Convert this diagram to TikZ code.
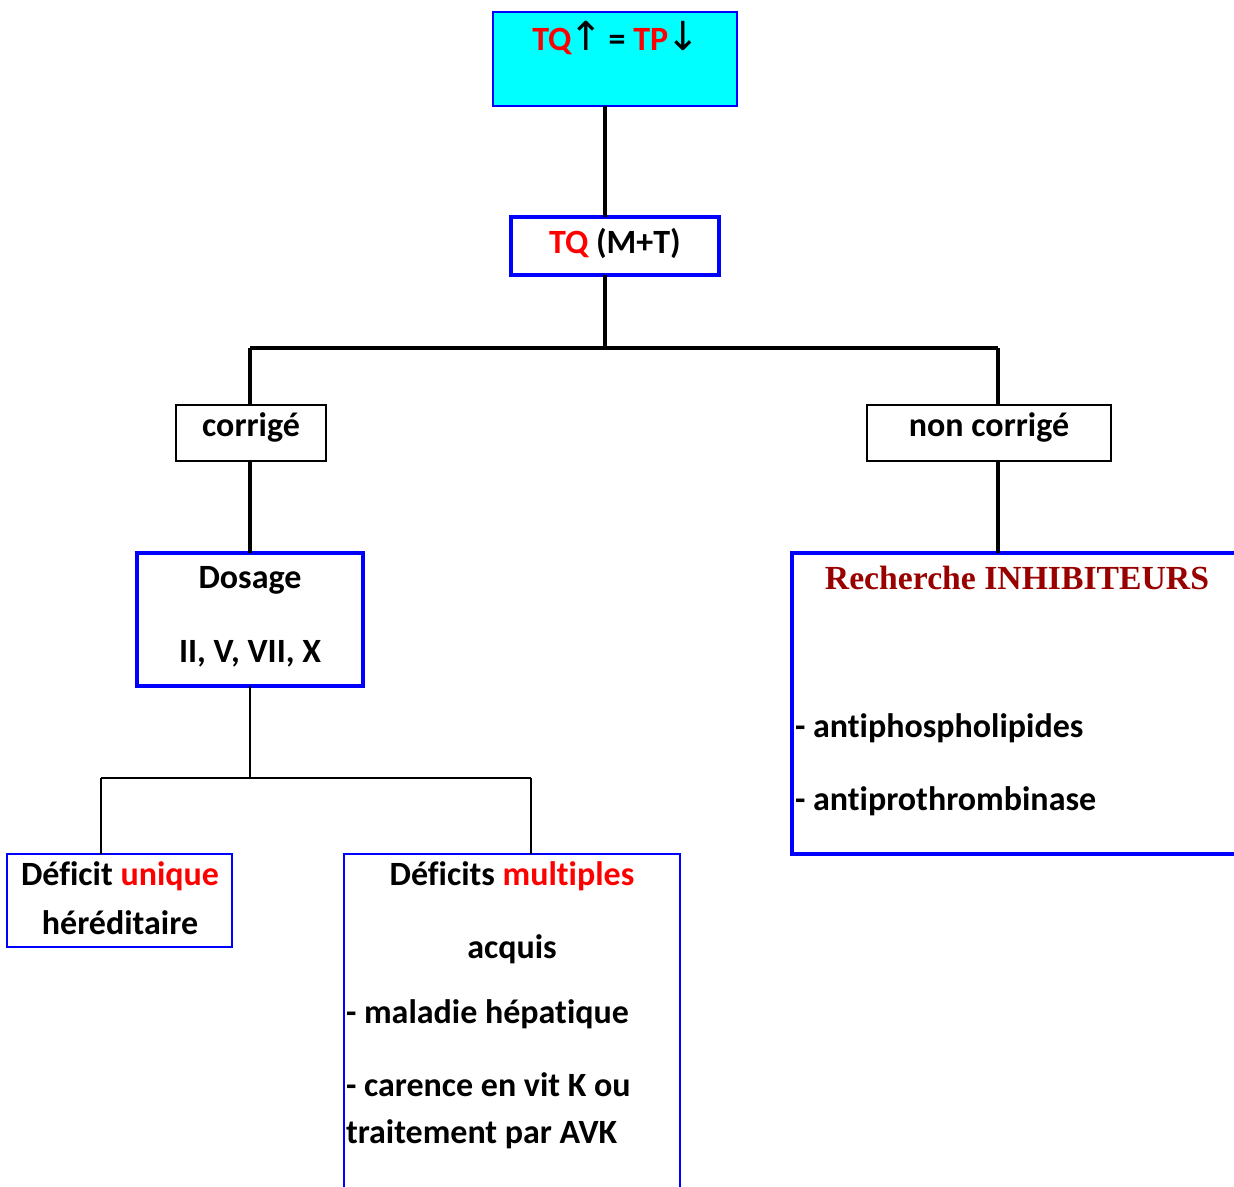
\documentclass[tikz,border=0pt]{standalone}
\usepackage{fontspec}
\setmainfont{Carlito}[Ligatures=NoCommon]
\newfontfamily\arrowfont{DejaVu Sans}
\newfontfamily\titlefont{Liberation Serif}
\definecolor{boxblue}{RGB}{0,0,255}
\definecolor{boxcyan}{RGB}{0,255,255}
\definecolor{hlred}{RGB}{255,0,0}
\definecolor{darkred}{RGB}{153,0,0}
\newcommand{\arrowsym}[1]{{\fontsize{40}{40}\arrowfont\mdseries\kern-2pt#1\kern-2pt}}
\begin{document}
\begin{tikzpicture}[x=1pt,y=-1pt,
  every node/.style={inner sep=0pt,outer sep=0pt},
  txt/.style={anchor=base,font=\fontsize{34}{40}\selectfont\bfseries},
  ltxt/.style={anchor=base west,font=\fontsize{34}{40}\selectfont\bfseries},
  blueframe/.style={draw=boxblue,line width=4pt,rectangle},
  thinblue/.style={draw=boxblue,line width=2.2pt,rectangle},
  blackframe/.style={draw=black,line width=2pt,rectangle},
  thickline/.style={line width=4pt},
  thinline/.style={line width=2.2pt}]
\useasboundingbox (0,0) rectangle (1234,1186);
\clip (0,0) rectangle (1234,1186);

% boxes
\node[thinblue,fill=boxcyan,minimum width=244pt,minimum height=94pt] (top) at (615,59) {};
\node[blueframe,minimum width=208pt,minimum height=58pt] (tq) at (615,246) {};
\node[blackframe,minimum width=150pt,minimum height=56pt] (corr) at (251,433) {};
\node[blackframe,minimum width=244pt,minimum height=56pt] (ncorr) at (989,433) {};
\node[blueframe,minimum width=226pt,minimum height=133pt] (dos) at (250,619.5) {};
\node[blueframe,minimum width=452pt,minimum height=301pt] (rech) at (1018,703.5) {};
\node[thinblue,minimum width=225pt,minimum height=93pt] (uniq) at (119.5,900.5) {};
\node[thinblue,minimum width=336pt,minimum height=360pt] (mult) at (512,1034) {};

% branching points
\coordinate (j0) at (605,348);
\coordinate (jl) at (250,348);
\coordinate (jr) at (998,348);
\coordinate (k0) at (250,778);
\coordinate (kl) at (101,778);
\coordinate (kr) at (531,778);

% connectors
\draw[thickline] (top.south -| j0) -- (tq.north -| j0);
\draw[thickline] (tq.south -| j0) -- (j0);
\draw[thickline] (jl) -- (jr);
\draw[thickline] (jl) -- (corr.north -| jl);
\draw[thickline] (jr) -- (ncorr.north -| jr);
\draw[thickline] (corr.south -| jl) -- (dos.north -| jl);
\draw[thickline] (ncorr.south -| jr) -- (rech.north -| jr);
\draw[thinline] (dos.south -| k0) -- (k0);
\draw[thinline] (kl) -- (kr);
\draw[thinline] (kl) -- (uniq.north -| kl);
\draw[thinline] (kr) -- (mult.north -| kr);

% texts
\node[txt] (t1) at (615,50) {\textcolor{hlred}{TQ}\arrowsym{↑} = \textcolor{hlred}{TP}\arrowsym{↓}};
\node[txt] (t2) at (615,253) {\textcolor{hlred}{TQ} (M+T)};
\node[txt] (t3) at (251,436) {corrigé};
\node[txt] (t4) at (989,436) {non corrigé};
\node[txt] (t5) at (250,588) {Dosage};
\node[txt] (t6) at (250,662) {II, V, VII, X};
\node[anchor=base,font=\fontsize{33.7}{40}\titlefont\bfseries,text=darkred] (t7) at (1017,589) {Recherche INHIBITEURS};
\node[ltxt] (t8) at (795,737) {- antiphospholipides};
\node[ltxt] (t9) at (795,810) {- antiprothrombinase};
\node[txt] (t10) at (120,885) {Déficit \textcolor{hlred}{unique}};
\node[txt] (t11) at (120,934) {héréditaire};
\node[txt] (t12) at (512,885) {Déficits \textcolor{hlred}{multiples}};
\node[txt] (t13) at (512,958) {acquis};
\node[ltxt] (t14) at (346,1023) {- maladie hépatique};
\node[ltxt] (t15) at (346,1096) {- carence en vit K ou};
\node[ltxt] (t16) at (346,1143) {traitement par AVK};
\end{tikzpicture}
\end{document}
